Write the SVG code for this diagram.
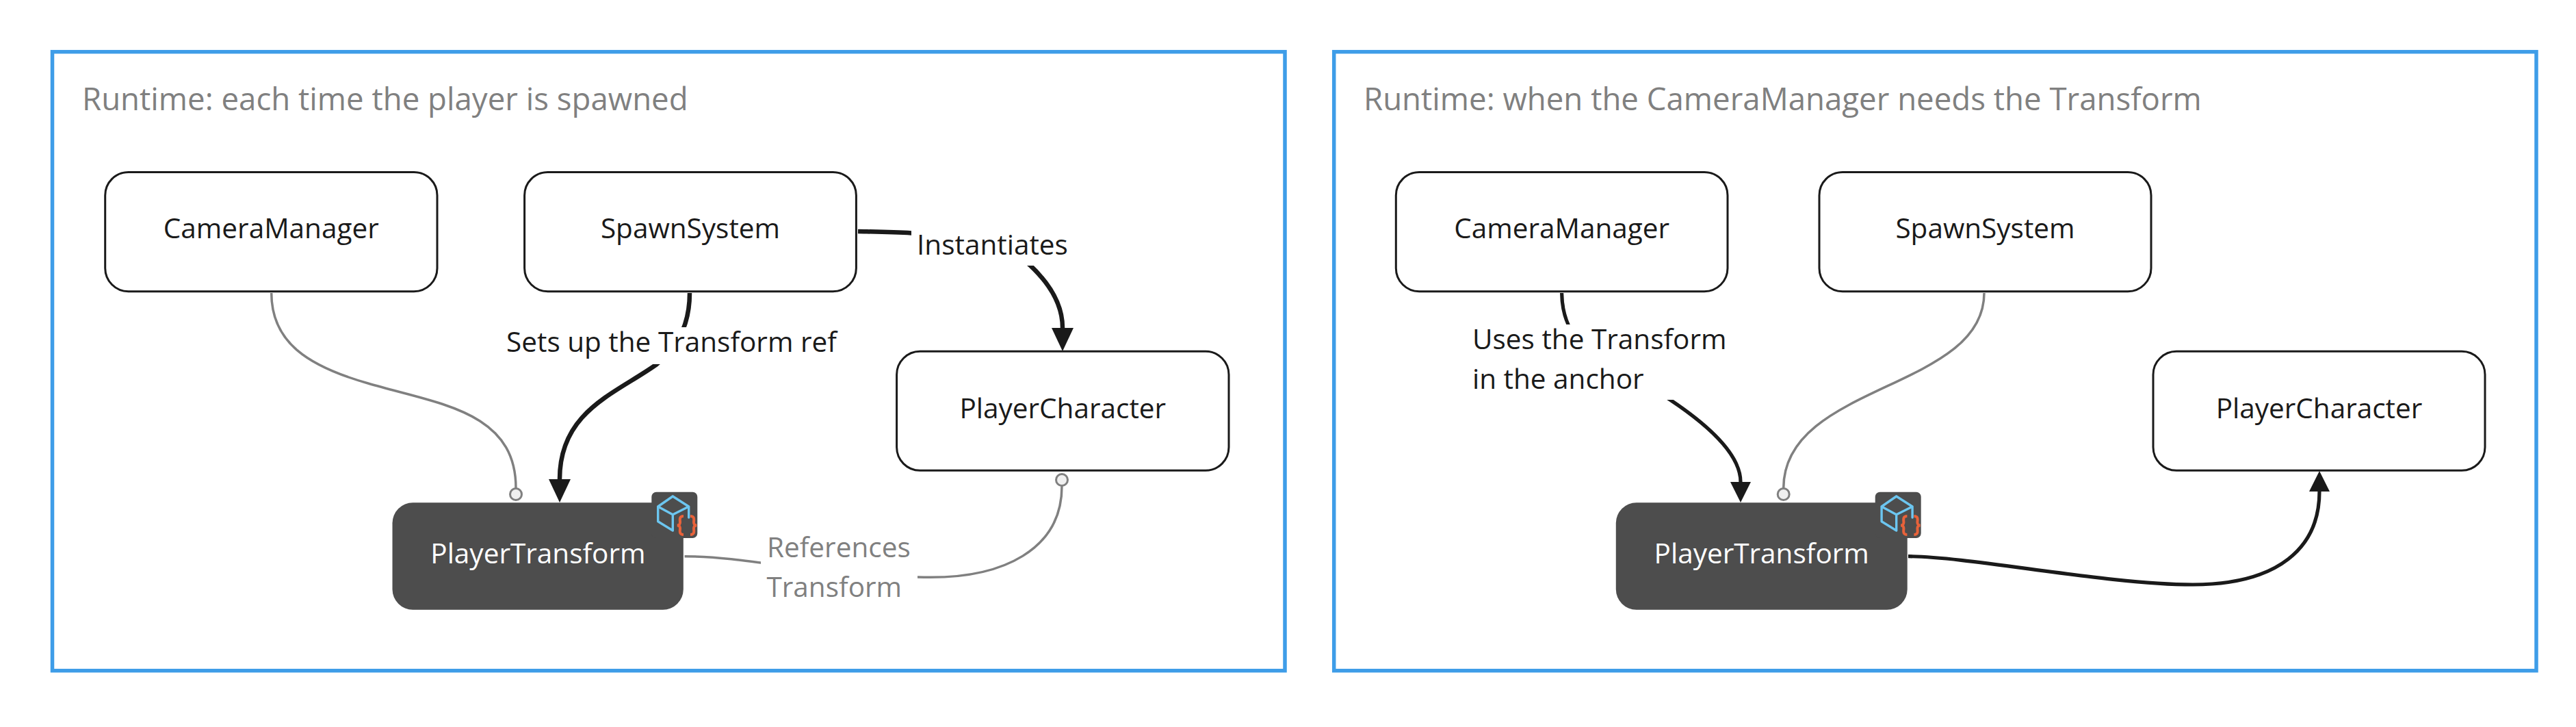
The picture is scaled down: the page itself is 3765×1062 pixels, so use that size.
<svg xmlns="http://www.w3.org/2000/svg" width="3765" height="1062" viewBox="0 0 3765 1062">
<style>
text{font-family:"Open Sans","Noto Sans",sans-serif;font-size:40.500px;fill:#1a1a1a}
.title{font-size:45.600px;fill:#808080}
.c{text-anchor:middle}
.w{fill:#fff}
.g{fill:#808080}
.frame{fill:#fff;stroke:#3e9de8;stroke-width:5.5}
.node{fill:#fff;stroke:#1a1a1a;stroke-width:3}
.dark{fill:#4d4d4d}
.k{fill:none;stroke:#1a1a1a;stroke-width:6.5}
.k2{fill:none;stroke:#1a1a1a;stroke-width:5.2}
.gr{fill:none;stroke:#808080;stroke-width:3.5}
.bg{fill:#fff}
</style>
<defs>
<marker id="arrow" markerUnits="userSpaceOnUse" markerWidth="36" markerHeight="36" refX="0" refY="16" orient="auto"><path d="M0 0L34 16L0 32Z" fill="#1a1a1a"/></marker>
<marker id="arrow2" markerUnits="userSpaceOnUse" markerWidth="36" markerHeight="36" refX="0" refY="15" orient="auto"><path d="M0 0L30 15L0 30Z" fill="#1a1a1a"/></marker>
<marker id="dot" markerUnits="userSpaceOnUse" markerWidth="24" markerHeight="24" refX="2" refY="12" orient="auto"><circle cx="11" cy="12" r="8.5" fill="#f0f0f0" stroke="#808080" stroke-width="3"/></marker>
<g id="icon">
<rect x="952.3" y="718.7" width="67" height="67.3" rx="7" fill="#4d4d4d"/>
<path d="M983.3 725L1006.700 740V756M983.3 725L961.700 740V761.700L983.3 775M961.700 740L983.3 751.700L1006.700 740M983.3 751.700V775" fill="none" stroke="#6cc6f0" stroke-width="3.400" stroke-linejoin="round" stroke-linecap="round"/>
<path d="M999 754C992 754 994 760 994 763C994 766 993 767 990 767.500C993 768 994 769 994 772C994 775 992 781 999 781M1009 754C1016 754 1014 760 1014 763C1014 766 1015 767 1018 767.500C1015 768 1014 769 1014 772C1014 775 1016 781 1009 781" fill="none" stroke="#e8623a" stroke-width="4"/>
</g>
</defs>
<rect width="3765" height="1062" fill="#fff"/>
<g id="frame-spawned">
<rect class="frame" x="76.500" y="75.700" width="1801.500" height="904"/>
<text class="title" x="120" y="161">Runtime: each time the player is spawned</text>
</g>
<g id="frame-needs">
<rect class="frame" x="1949.700" y="75.700" width="1757.300" height="904"/>
<text class="title" x="1993" y="161">Runtime: when the CameraManager needs the Transform</text>
</g>
<g id="n1-camera"><rect class="node" x="153.700" y="251.400" width="485.300" height="174.300" rx="34"/><text class="c" x="396.300" y="348">CameraManager</text></g>
<g id="n1-spawn"><rect class="node" x="766.600" y="251.400" width="484.800" height="174.300" rx="34"/><text class="c" x="1009" y="348">SpawnSystem</text></g>
<g id="n1-character"><rect class="node" x="1310.600" y="513.300" width="485.400" height="174" rx="34"/><text class="c" x="1553.300" y="610.700">PlayerCharacter</text></g>
<g id="n1-transform"><rect class="dark" x="573.500" y="734.300" width="425.300" height="156.400" rx="30"/><use href="#icon"/><text class="c w" x="786.400" y="822.700">PlayerTransform</text></g>
<g id="n2-camera"><rect class="node" x="2040.300" y="251.400" width="484.700" height="174.300" rx="34"/><text class="c" x="2282.600" y="348">CameraManager</text></g>
<g id="n2-spawn"><rect class="node" x="2659" y="251.400" width="485" height="174.300" rx="34"/><text class="c" x="2901.500" y="348">SpawnSystem</text></g>
<g id="n2-character"><rect class="node" x="3147" y="513.300" width="485" height="174" rx="34"/><text class="c" x="3389.500" y="610.700">PlayerCharacter</text></g>
<g id="n2-transform"><rect class="dark" x="2361.800" y="734.300" width="425.900" height="156.400" rx="30"/><use href="#icon" x="1788.400"/><text class="c w" x="2574.700" y="822.700">PlayerTransform</text></g>
<g id="connectors">
<path class="gr" marker-end="url(#dot)" d="M396.700 428C396.700 500 450 535 538 560C640 590 754 600 754 713"/>
<path class="k" marker-end="url(#arrow)" d="M1008 428C1008 480 985 512 960 532C900 575 818 600 818 700"/>
<rect class="bg" x="740" y="478" width="483" height="54"/>
<text x="740" y="514">Sets up the Transform ref</text>
<path class="k" marker-end="url(#arrow)" d="M1254 338C1340 340 1450 340 1505 387C1535 415 1553 445 1553 479"/>
<rect class="bg" x="1332" y="335" width="238" height="53"/>
<text x="1340" y="371.700">Instantiates</text>
<path class="gr" marker-end="url(#dot)" d="M1000.600 812.700C1100 813 1200 843 1341 843C1470 848 1552 800 1552 710"/>
<rect class="bg" x="1112" y="778" width="229" height="110"/>
<text class="g" x="1121" y="814">References</text>
<text class="g" x="1120.500" y="872">Transform</text>
<path class="k2" marker-end="url(#arrow2)" d="M2282.600 428C2284 520 2360 530 2441 584C2510 630 2544 670 2544 704"/>
<rect class="bg" x="2152" y="474" width="370" height="110"/>
<text x="2152" y="510">Uses the Transform</text>
<text x="2152" y="568">in the anchor</text>
<path class="gr" marker-end="url(#dot)" d="M2900 428C2900 570 2606.700 560 2606.700 713"/>
<path class="k2" marker-end="url(#arrow2)" d="M2789 812.700C2880 813 3080 854 3205 854C3330 854 3390 800 3390 718"/>
</g>
</svg>
